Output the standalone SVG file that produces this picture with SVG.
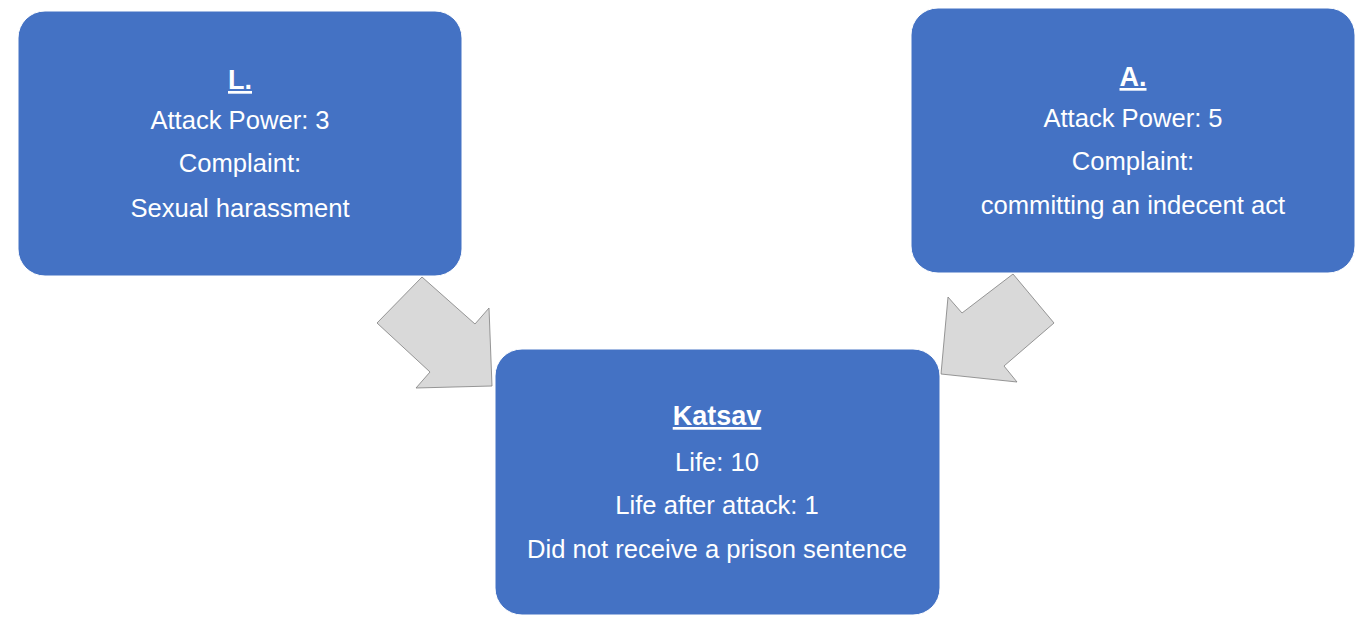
<svg xmlns="http://www.w3.org/2000/svg" width="1372" height="632" viewBox="0 0 1372 632">
<style>
.box{fill:#4472C4;stroke:#ffffff;stroke-width:1}
.arrow{fill:#D9D9D9;stroke:#7f7f7f;stroke-width:0.8;stroke-linejoin:miter}
text{font-family:"Liberation Sans",Arial,sans-serif;fill:#ffffff;text-anchor:middle;font-size:25.6px}
.title{font-weight:bold;font-size:27px;text-decoration:underline}
</style>
<rect width="1372" height="632" fill="#ffffff"/>
<g id="connectors">
<polygon class="arrow" points="377,323 422,277 475,324 489,308 492,386 416,388 430,372"/>
<polygon class="arrow" points="1013,274 1054,323 1004,366 1017,382 941,374 948,297 962,313"/>
</g>
<g id="node-L">
<rect class="box" x="18" y="11" width="444" height="265" rx="27" ry="27"/>
<text class="title" x="240" y="89">L.</text>
<text x="240" y="129">Attack Power: 3</text>
<text x="240" y="172">Complaint:</text>
<text x="240" y="217">Sexual harassment</text>
</g>
<g id="node-A">
<rect class="box" x="911" y="8" width="444" height="265" rx="27" ry="27"/>
<text class="title" x="1133" y="86">A.</text>
<text x="1133" y="127">Attack Power: 5</text>
<text x="1133" y="170">Complaint:</text>
<text x="1133" y="214">committing an indecent act</text>
</g>
<g id="node-Katsav">
<rect class="box" x="495" y="349" width="445" height="266" rx="27" ry="27"/>
<text class="title" x="717" y="425">Katsav</text>
<text x="717" y="471">Life: 10</text>
<text x="717" y="514">Life after attack: 1</text>
<text x="717" y="558">Did not receive a prison sentence</text>
</g>
</svg>
